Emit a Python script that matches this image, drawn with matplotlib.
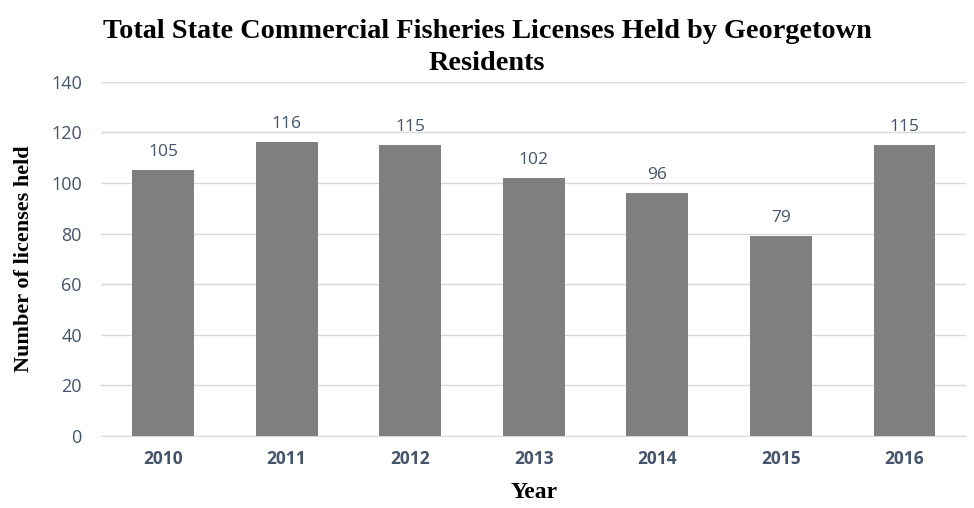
import matplotlib.pyplot as plt

years = ["2010", "2011", "2012", "2013", "2014", "2015", "2016"]
licenses = [105, 116, 115, 102, 96, 79, 115]

bar_color = "#7f7f7f"
text_color = "#44546a"
serif = "Liberation Serif"
sans = "Open Sans"

fig = plt.figure(figsize=(9.74, 5.08), dpi=100)
ax = fig.add_axes([0.104, 0.142, 0.888, 0.697])

x = range(len(years))
bars = ax.bar(x, licenses, width=0.5, color=bar_color, zorder=3)
for xi, v in zip(x, licenses):
    ax.text(xi, v + 4, str(v), ha="center", va="bottom", fontsize=12.5,
            color=text_color, family=sans)

ax.set_ylim(0, 140)
ax.set_xlim(-0.5, len(years) - 0.5)
ax.set_yticks(range(0, 141, 20))
ax.set_xticks(list(x))
ax.set_xticklabels(years, fontsize=12.5, fontweight="bold", color=text_color, family=sans)
for lab in ax.get_yticklabels():
    lab.set_fontsize(13)
    lab.set_color(text_color)
    lab.set_family(sans)
ax.tick_params(length=0, pad=10)
ax.tick_params(axis="y", pad=14)
ax.grid(axis="y", color="#d9d9d9", linewidth=1, zorder=0)
for s in ["top", "right", "left"]:
    ax.spines[s].set_visible(False)
ax.spines["bottom"].set_color("#d9d9d9")

ax.set_ylabel("Number of licenses held", family=serif, fontweight="bold",
              fontsize=16, labelpad=12)
ax.set_xlabel("Year", family=serif, fontweight="bold", fontsize=17, labelpad=10)
fig.suptitle("Total State Commercial Fisheries Licenses Held by Georgetown\nResidents",
             family=serif, fontweight="bold", fontsize=20.3, y=0.963, linespacing=1.4)

fig.savefig("out.png", dpi=100)
